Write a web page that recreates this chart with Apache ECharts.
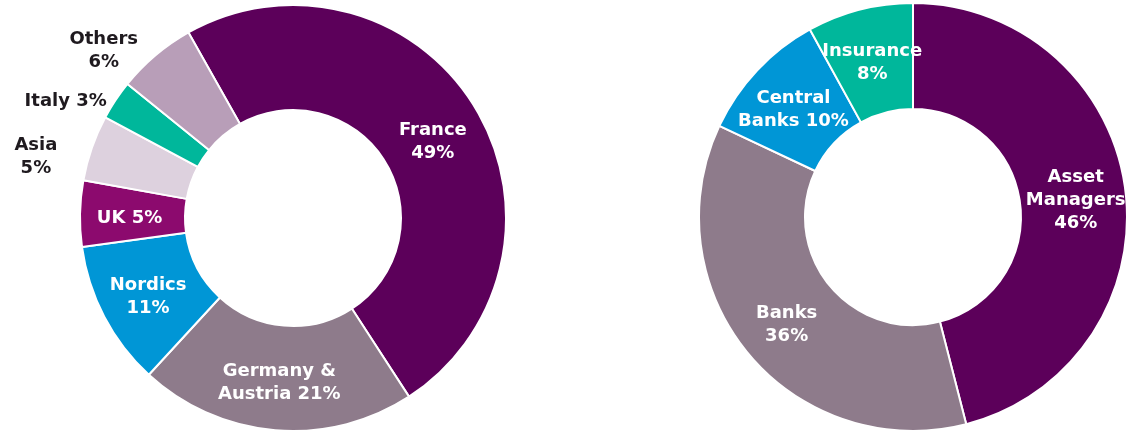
<!DOCTYPE html>
<html>
<head>
<meta charset="utf-8">
<script src="https://cdn.jsdelivr.net/npm/echarts@6/dist/echarts.min.js"></script>
<style>
html,body{margin:0;padding:0;background:#fff;}
#c{width:1128px;height:432px;}
</style>
</head>
<body>
<div id="c"></div>
<script>
// ---- Data ----
const leftNames  = ['France', 'Germany &\nAustria', 'Nordics', 'UK', 'Asia', 'Italy', 'Others'];
const leftValues = [49, 21, 11, 5, 5, 3, 6];
const leftSep    = ['\n', ' ', '\n', ' ', '\n', ' ', '\n'];
const leftOutside = ['Asia', 'Italy', 'Others'];

const rightNames  = ['Asset\nManagers', 'Banks', 'Central\nBanks', 'Insurance'];
const rightValues = [46, 36, 10, 8];
const rightSep    = ['\n', '\n', ' ', '\n'];

// ---- Styles / layout tuning ----
const leftColors  = ['#5c005a', '#8e7b8b', '#0096d6', '#8c0a6e', '#ddd1de', '#00b79b', '#b89eb8'];
const rightColors = ['#5c005a', '#8e7b8b', '#0096d6', '#00b79b'];
const leftLabelDy  = [9, 2, 3, 4, 9, 2, 2];
const rightLabelDy = [4, 3, 5, 5];

const FONT = 'DejaVu Sans';
const LH = 23;
const baseLabel = {
  fontFamily: FONT, fontWeight: 'bold', fontSize: 18, lineHeight: LH, color: '#fff'
};

// outside label tuning (label line hidden)
const outsideCfg = {
  'Asia':   {length: 1, length2: 27, box: 46},
  'Italy':  {length: 1, length2: 3,  box: 0},
  'Others': {length: 9, length2: 7,  box: 68}
};

function buildData(names, values, seps, colors, outside) {
  return names.map((n, i) => {
    const item = {name: n, value: values[i], itemStyle: {color: colors[i]}};
    const text = n + seps[i] + values[i] + '%';
    if (outside && outside.indexOf(n) >= 0) {
      const cfg = outsideCfg[n];
      const lines = text.split('\n');
      const fmt = cfg.box ? lines.map(l => '{o|' + l + '}').join('\n') : '{p|' + text + '}';
      item.label = {
        position: 'outside',
        formatter: fmt,
        rich: {
          o: {fontFamily: FONT, fontWeight: 'bold', fontSize: 18, lineHeight: LH, color: '#1f1a1f', width: cfg.box, align: 'center'},
          p: {fontFamily: FONT, fontWeight: 'bold', fontSize: 18, lineHeight: LH, color: '#1f1a1f'}
        }
      };
      item.labelLine = {show: false, length: cfg.length, length2: cfg.length2};
    } else {
      item.label = {formatter: text};
    }
    return item;
  });
}

const chart = echarts.init(document.getElementById('c'), null, {renderer: 'canvas'});
chart.setOption({
  animation: false,
  series: [
    {
      type: 'pie',
      center: [293, 218],
      radius: [108, 213],
      startAngle: 119.4,
      clockwise: true,
      avoidLabelOverlap: false,
      silent: true,
      itemStyle: {borderColor: '#fff', borderWidth: 2},
      label: Object.assign({show: true, position: 'inside'}, baseLabel),
      labelLine: {show: false},
      labelLayout: function (p) { return {dy: leftLabelDy[p.dataIndex]}; },
      data: buildData(leftNames, leftValues, leftSep, leftColors, leftOutside)
    },
    {
      type: 'pie',
      center: [913, 217],
      radius: [108, 214],
      startAngle: 90,
      clockwise: true,
      avoidLabelOverlap: false,
      silent: true,
      itemStyle: {borderColor: '#fff', borderWidth: 2},
      label: Object.assign({show: true, position: 'inside'}, baseLabel),
      labelLine: {show: false},
      labelLayout: function (p) { return {dy: rightLabelDy[p.dataIndex]}; },
      data: buildData(rightNames, rightValues, rightSep, rightColors, null)
    }
  ]
});
</script>
</body>
</html>
